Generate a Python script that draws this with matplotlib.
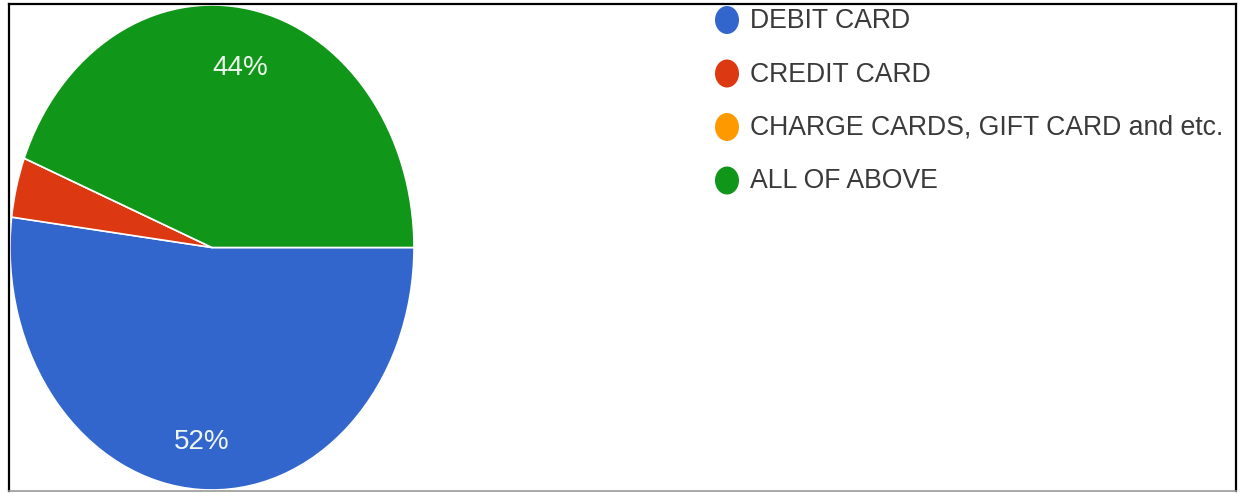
import matplotlib
matplotlib.use("Agg")
import numpy as np
import matplotlib.pyplot as plt
from matplotlib.patches import Ellipse
from matplotlib.lines import Line2D
from matplotlib.transforms import Bbox

labels = ["DEBIT CARD", "CREDIT CARD", "CHARGE CARDS, GIFT CARD and etc.", "ALL OF ABOVE"]
values = [52, 4, 0, 44]
colors = ["#3366CC", "#DC3912", "#FF9900", "#109618"]

W, H = 1241, 493
fig = plt.figure(figsize=(W / 100, H / 100), dpi=100)
plt.rcParams['font.family'] = ['Liberation Sans', 'DejaVu Sans']

# pie axes (stretched vertically like the reference)
ax = fig.add_axes([10 / W, 3 / H, 404 / W, 485 / H])
wedges, texts, autotexts = ax.pie(
    values, colors=colors, startangle=0, counterclock=False,
    autopct=lambda p: f"{p:.0f}%" if p >= 5 else "",
    pctdistance=0.78,
    wedgeprops=dict(edgecolor="white", linewidth=1.2),
    textprops=dict(color="#eef6ee", fontsize=20),
)
# nudge label radii per slice
label_r = [0.805, 0.78, 0.78, 0.755]
for w, t, r in zip(wedges, autotexts, label_r):
    mid = np.deg2rad((w.theta1 + w.theta2) / 2)
    t.set_position((r * np.cos(mid), r * np.sin(mid)))
ax.set_aspect("auto")
ax.set_xlim(-1, 1)
ax.set_ylim(-1, 1)

# legend
y0, dy = 20, 53.5
for i, (lab, col) in enumerate(zip(labels, colors)):
    yc = y0 + i * dy
    fig.patches.append(Ellipse((727 / W, 1 - yc / H), 24 / W, 28 / H,
                               transform=fig.transFigure, facecolor=col,
                               edgecolor="none"))
    t = fig.text(750 / W, 1 - (yc + 1) / H, lab, fontsize=19.2, color="#3a3a3a",
                 va="center", ha="left")
    t.set_clip_box(Bbox([[0, 0], [1235, H]]))
    t.set_clip_on(True)

# frame
def fl(x0, y0_, x1, y1, c="black", lw=1.6):
    fig.add_artist(Line2D([x0 / W, x1 / W], [1 - y0_ / H, 1 - y1 / H],
                          transform=fig.transFigure, color=c, linewidth=lw))

fl(9, 4, 1236, 4)
fl(9, 4, 9, 491)
fl(1236, 4, 1236, 491)
fl(9, 491, 1236, 491, c="#999999", lw=1.2)

fig.savefig("out.png", dpi=100)
